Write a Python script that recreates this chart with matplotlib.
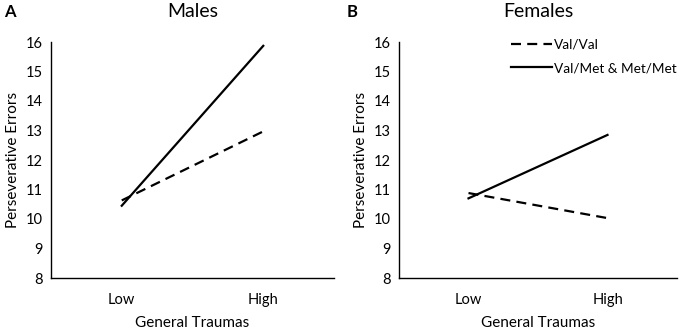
import matplotlib
matplotlib.use("Agg")
import matplotlib.pyplot as plt

categories = ["Low", "High"]
male_valval = [10.63, 12.97]
male_met = [10.45, 15.87]
female_valval = [10.88, 10.03]
female_met = [10.7, 12.85]
yticks = [8, 9, 10, 11, 12, 13, 14, 15, 16]

plt.rcParams['font.family'] = ['Lato', 'DejaVu Sans']

W, H = 686, 329
fig = plt.figure(figsize=(W / 100, H / 100), dpi=100)

def add_ax(x0, x1, y0, y1):
    return fig.add_axes([x0 / W, 1 - y1 / H, (x1 - x0) / W, (y1 - y0) / H])

axA = add_ax(51, 334, 42, 278)
axB = add_ax(399, 677, 42, 278)

xs = [1, 2]
for ax, vv, mm, title, lab, lx in [
    (axA, male_valval, male_met, "Males", "A", 4),
    (axB, female_valval, female_met, "Females", "B", 347),
]:
    ax.plot(xs, vv, color="black", lw=1.6, linestyle=(0, (4.5, 2.8)), label="Val/Val")
    ax.plot(xs, mm, color="black", lw=1.6, label="Val/Met & Met/Met")
    ax.set_xlim(0.5, 2.5)
    ax.set_ylim(8, 16)
    ax.set_yticks(yticks)
    ax.set_xticks(xs)
    ax.set_xticklabels(categories)
    ax.tick_params(length=0, labelsize=10.5, pad=6)
    ax.tick_params(axis='x', pad=11)
    for s in ["top", "right"]:
        ax.spines[s].set_visible(False)
    for s in ["left", "bottom"]:
        ax.spines[s].set_linewidth(1.0)
    ax.set_ylabel("Perseverative Errors", fontsize=11, labelpad=4)
    ax.set_xlabel("General Traumas", fontsize=11, labelpad=6)
    ax.set_title(title, fontsize=14, pad=18)
    fig.text(lx / W, 1 - 12 / H, lab, fontsize=12, fontweight="bold", va="center", ha="left")

axB.legend(loc="upper left", bbox_to_anchor=(0.403, 1.015), frameon=False, fontsize=9.8,
           handlelength=3.0, handletextpad=0.15, labelspacing=0.85,
           borderaxespad=0, borderpad=0)

fig.savefig("out.png", dpi=100)
